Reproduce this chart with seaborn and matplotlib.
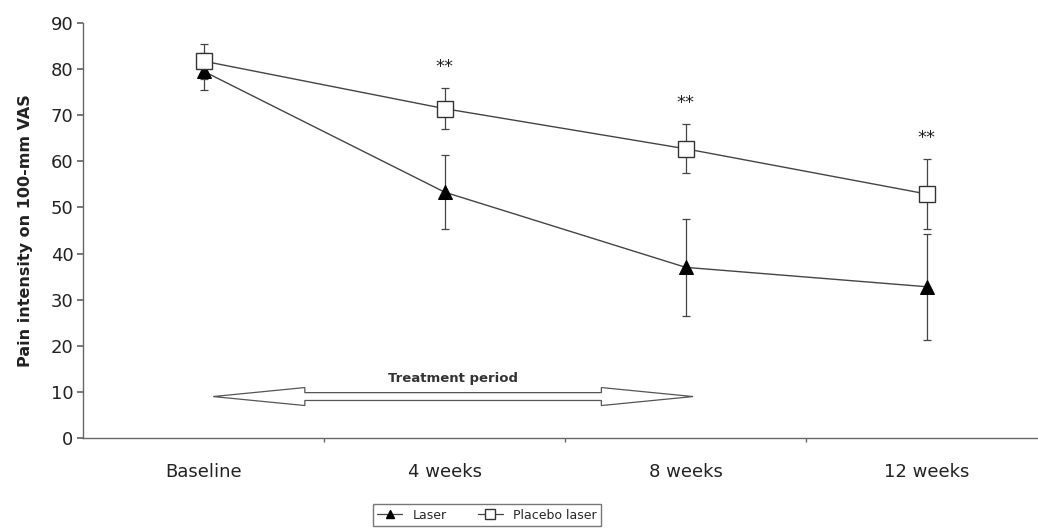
import numpy as np
import pandas as pd
import matplotlib.pyplot as plt
from matplotlib.patches import Polygon
from matplotlib.lines import Line2D
import seaborn as sns

# values
timepoints = ['Baseline', '4 weeks', '8 weeks', '12 weeks']
laser_mean = [79.5, 53.3, 37.0, 32.8]
laser_sd = [4.0, 8.0, 10.5, 11.5]
placebo_mean = [81.7, 71.4, 62.7, 52.9]
placebo_sd = [3.8, 4.5, 5.3, 7.6]
signif = ['', '**', '**', '**']
treatment_span = (0.04, 2.03)   # in category units
treatment_level = 9.0

sns.set_theme(style='white')
plt.rcParams['font.family'] = ['DejaVu Sans']

df = pd.DataFrame({
    'x': list(range(len(timepoints))) * 2,
    'pain': laser_mean + placebo_mean,
    'sd': laser_sd + placebo_sd,
    'group': ['Laser'] * 4 + ['Placebo laser'] * 4,
})

fig = plt.figure(figsize=(10.38, 5.31), dpi=100)
ax = fig.add_axes([0.080, 0.175, 0.929, 0.782])

line_col = '#444444'
for grp, sub in df.groupby('group'):
    ax.errorbar(sub['x'], sub['pain'], yerr=sub['sd'], fmt='none',
                ecolor=line_col, elinewidth=0.9, capsize=3, capthick=0.9, zorder=2)

sns.lineplot(data=df, x='x', y='pain', style='group', hue='group',
             markers={'Laser': '^', 'Placebo laser': 's'},
             dashes=False, palette={'Laser': line_col, 'Placebo laser': line_col},
             linewidth=1.0, markersize=11, ax=ax, legend=False, zorder=3)

# triangles filled black, squares hollow
for ln in ax.get_lines():
    if ln.get_marker() == '^':
        ln.set_markerfacecolor('black')
        ln.set_markeredgecolor('black')
        ln.set_markersize(10)
    elif ln.get_marker() == 's':
        ln.set_markerfacecolor('white')
        ln.set_markeredgecolor('#333333')
        ln.set_markeredgewidth(1.0)
        ln.set_markersize(11.5)

for i, s in enumerate(signif):
    if s:
        ax.text(i, placebo_mean[i] + placebo_sd[i] + 2.6, s, ha='center', va='bottom',
                fontsize=13, color='#222222')

# hollow double-headed block arrow for the treatment period
x0, x1 = treatment_span
y = treatment_level
head_len = 0.38
shaft_h = 0.85
head_h = 1.95
pts = [(x0, y), (x0 + head_len, y + head_h), (x0 + head_len, y + shaft_h),
       (x1 - head_len, y + shaft_h), (x1 - head_len, y + head_h), (x1, y),
       (x1 - head_len, y - head_h), (x1 - head_len, y - shaft_h),
       (x0 + head_len, y - shaft_h), (x0 + head_len, y - head_h)]
ax.add_patch(Polygon(pts, closed=True, facecolor='white', edgecolor='#555555',
                     linewidth=0.9, zorder=2))
ax.text((x0 + x1) / 2, y + 2.6, 'Treatment period', ha='center', va='bottom',
        fontsize=9.5, fontweight='bold', color='#333333')

ax.set_xlim(-0.5, 3.5)
ax.set_ylim(0, 90)
ax.set_yticks(range(0, 91, 10))
ax.set_xticks(range(len(timepoints)))
ax.set_xticklabels(timepoints)
ax.set_xticks([0.5, 1.5, 2.5], minor=True)
ax.tick_params(axis='x', which='major', length=0, pad=18, labelsize=13, colors='#222222')
ax.tick_params(axis='x', which='minor', bottom=True, length=3, color='#666666', direction='out')
ax.tick_params(axis='y', left=True, length=4, labelsize=13, colors='#222222', pad=3)
ax.tick_params(axis='y', color='#666666')
ax.set_xlabel('')
ax.set_ylabel('Pain intensity on 100-mm VAS', fontsize=11.5, fontweight='bold',
              color='#222222', labelpad=13)

for side in ['top', 'right']:
    ax.spines[side].set_visible(False)
for side in ['left', 'bottom']:
    ax.spines[side].set_color('#666666')
    ax.spines[side].set_linewidth(1.0)

handles = [
    Line2D([0], [0], color=line_col, lw=0.9, marker='^', markersize=6,
           markerfacecolor='black', markeredgecolor='black'),
    Line2D([0], [0], color=line_col, lw=0.9, marker='s', markersize=7,
           markerfacecolor='white', markeredgecolor='#333333'),
]
fig.legend(handles, ['Laser', 'Placebo laser'], loc='upper center',
           bbox_to_anchor=(0.469, 0.062), ncol=2, fontsize=9, frameon=True,
           fancybox=False, edgecolor='#555555', handlelength=2.0,
           borderpad=0.35, columnspacing=2.5)

fig.savefig('out.png', dpi=100, facecolor='white')
